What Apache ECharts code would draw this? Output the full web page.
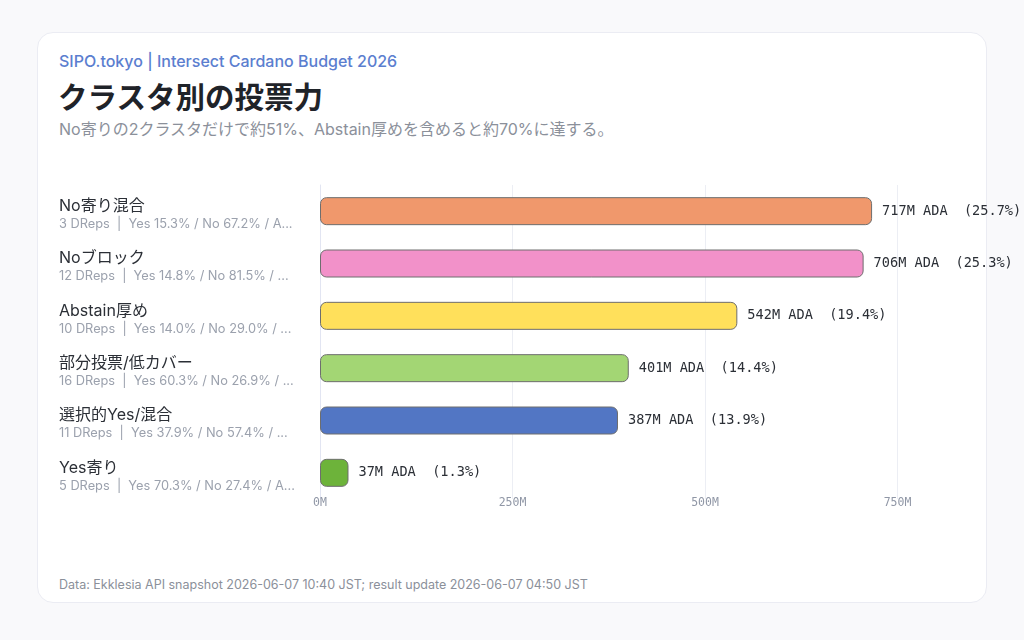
<!DOCTYPE html>
<html>
<head>
<meta charset="utf-8">
<script src="https://cdn.jsdelivr.net/npm/echarts@6/dist/echarts.min.js"></script>
<style>
  html, body { margin: 0; padding: 0; width: 1024px; height: 640px; overflow: hidden; background: #f9f9fb; }
  body { position: relative; font-family: Inter, "Noto Sans CJK JP", sans-serif; }
  .card {
    position: absolute; left: 37px; top: 32px; width: 950px; height: 571px;
    background: #fff; border: 1px solid #ebecf3; border-radius: 16px; box-sizing: border-box;
  }
  .kicker { position: absolute; left: 59px; top: 51px; font-size: 16px; line-height: 20px; font-weight: 500; color: #5b7ecf; }
  .title { position: absolute; left: 58px; top: 77px; font-size: 29.5px; font-weight: 700; color: #1f2329; line-height: 40px; }
  .sub { position: absolute; left: 59px; top: 119px; font-size: 16px; line-height: 20px; color: #8b909a; }
  .foot { position: absolute; left: 59px; top: 577px; font-size: 12.5px; line-height: 16px; color: #8b909a; }
  #chart { position: absolute; left: 0; top: 0; width: 1200px; height: 640px; }
</style>
</head>
<body>
<div class="card"></div>
<div class="kicker">SIPO.tokyo | Intersect Cardano Budget 2026</div>
<div class="title">クラスタ別の投票力</div>
<div class="sub">No寄りの2クラスタだけで約51%、Abstain厚めを含めると約70%に達する。</div>
<div class="foot">Data: Ekklesia API snapshot 2026-06-07 10:40 JST; result update 2026-06-07 04:50 JST</div>
<div id="chart"></div>
<script>
// クラスタ名
const clusters = ['No寄り混合', 'Noブロック', 'Abstain厚め', '部分投票/低カバー', '選択的Yes/混合', 'Yes寄り']
// サブテキスト（表示どおり省略済み）
const details = [
  '3 DReps  |  Yes 15.3% / No 67.2% / A...',
  '12 DReps  |  Yes 14.8% / No 81.5% / ...',
  '10 DReps  |  Yes 14.0% / No 29.0% / ...',
  '16 DReps  |  Yes 60.3% / No 26.9% / ...',
  '11 DReps  |  Yes 37.9% / No 57.4% / ...',
  '5 DReps  |  Yes 70.3% / No 27.4% / A...'
]
// 投票力 (M ADA) と比率 (%)
const powerM = [717, 706, 542, 401, 387, 37]
const sharePct = [25.7, 25.3, 19.4, 14.4, 13.9, 1.3]
const colors = ['#f0986c', '#f291c9', '#ffe05b', '#a3d674', '#5276c4', '#6db33a']
const xTicks = [0, 250, 500, 750, 1000]

const chart = echarts.init(document.getElementById('chart'))
const labelFont = 'Inter, "Noto Sans CJK JP", sans-serif'
const monoFont = '"DejaVu Sans Mono", monospace'

const option = {
  animation: false,
  grid: { left: 320, top: 185, width: 770, height: 314 },
  xAxis: {
    type: 'value',
    min: xTicks[0],
    max: xTicks[xTicks.length - 1],
    interval: xTicks[1] - xTicks[0],
    axisLine: { show: false },
    axisTick: { show: false },
    splitLine: { lineStyle: { color: '#eceef4', width: 1 } },
    axisLabel: {
      formatter: (v) => v + 'M',
      fontFamily: monoFont, fontSize: 11.5, color: '#9097a6', margin: -2
    }
  },
  yAxis: {
    type: 'category',
    inverse: true,
    data: clusters,
    axisLine: { show: true, lineStyle: { color: '#e2e5f2' } },
    axisTick: { show: false },
    axisLabel: {
      align: 'left',
      margin: 261,
      formatter: (v, i) => '{n|' + v + '}\n{s|' + details[i] + '}',
      rich: {
        n: { fontFamily: labelFont, fontSize: 16, color: '#2b2f36', lineHeight: 26, padding: [10, 0, 0, 0] },
        s: { fontFamily: labelFont, fontSize: 12.8, color: '#9ba1ad', lineHeight: 20 }
      }
    }
  },
  series: [{
    type: 'bar',
    barWidth: 28,
    data: powerM.map((v, i) => ({
      value: v,
      itemStyle: {
        color: colors[i],
        borderColor: '#6e6e6e',
        borderWidth: 1,
        borderRadius: 6
      }
    })),
    label: {
      show: true,
      position: 'right',
      distance: 10,
      fontFamily: monoFont,
      fontSize: 13.6,
      color: '#2b2f36',
      formatter: (p) => p.value + 'M ADA  (' + sharePct[p.dataIndex].toFixed(1) + '%)'
    }
  }]
}

chart.setOption(option)
</script>
</body>
</html>
